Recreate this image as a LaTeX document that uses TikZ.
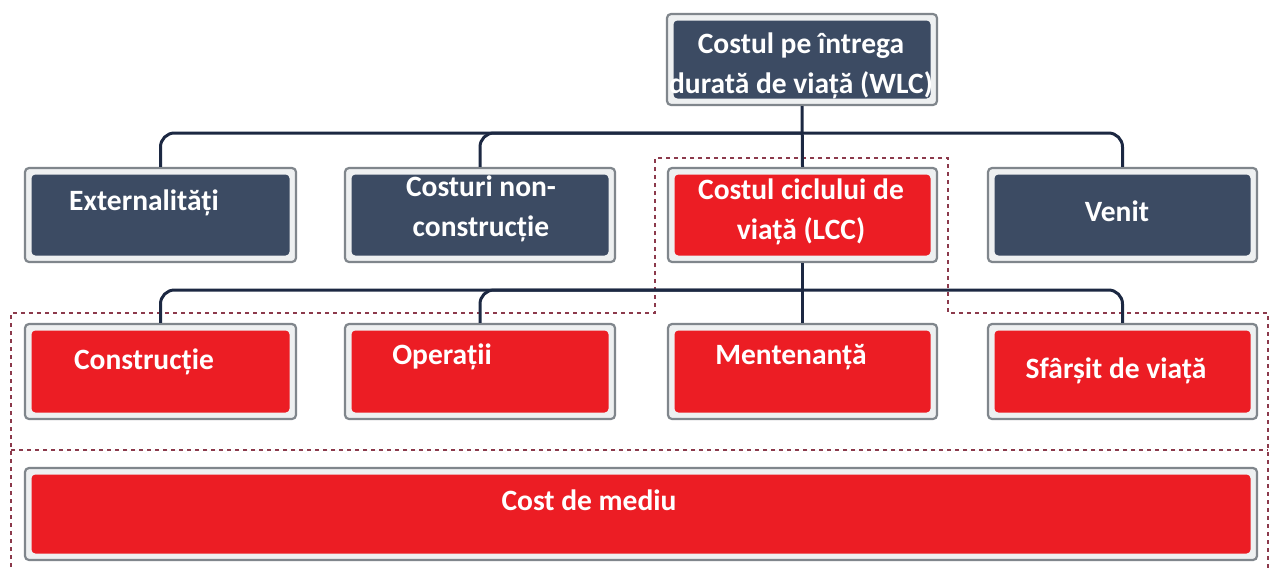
\documentclass[tikz,border=0pt]{standalone}
\usepackage{fontspec}
\setmainfont{Carlito}
\definecolor{navy}{RGB}{60,75,99}
\definecolor{redbox}{RGB}{236,29,36}
\definecolor{rim}{RGB}{128,134,140}
\definecolor{rimfill}{RGB}{238,240,241}
\definecolor{conncol}{RGB}{28,40,66}
\definecolor{dashcol}{RGB}{140,58,76}
\tikzset{
  boxbase/.style={draw=rim, line width=2.2pt, rounded corners=4pt, fill=rimfill, inner sep=0pt},
  navybox/.style={boxbase, path picture={\fill[navy] ([shift={(6.5pt,-6.5pt)}]path picture bounding box.north west) rectangle ([shift={(-6.5pt,6.5pt)}]path picture bounding box.south east);}},
  redbx/.style={boxbase, path picture={\fill[redbox] ([shift={(6.5pt,-6.5pt)}]path picture bounding box.north west) rectangle ([shift={(-6.5pt,6.5pt)}]path picture bounding box.south east);}},
  lbl/.style={text=white, font=\bfseries\fontsize{29.5}{40}\selectfont, align=center, inner sep=0pt},
  conn/.style={draw=conncol, line width=3pt, rounded corners=14pt},
  dashline/.style={draw=dashcol, line width=2.8pt, dash pattern=on 4pt off 4pt}
}
\begin{document}
\begin{tikzpicture}[x=1pt,y=-1pt]
\useasboundingbox[fill=white] (0,0) rectangle (1271,568);
% dashed group outlines
\draw[dashline] (11,575) -- (11,313) -- (655,313) -- (655,158) -- (948,158) -- (948,313) -- (1268,313) -- (1268,575);
\draw[dashline] (11,450) -- (1268,450);
% boxes
\node[navybox, minimum width=270pt, minimum height=91pt] (wlc) at (802,59.5) {};
\node[navybox, minimum width=271pt, minimum height=94pt] (ext) at (160.5,215) {};
\node[navybox, minimum width=270pt, minimum height=94pt] (ncc) at (480,215) {};
\node[redbx, minimum width=269pt, minimum height=94pt] (lcc) at (802.5,215) {};
\node[navybox, minimum width=269pt, minimum height=94pt] (ven) at (1122.5,215) {};
\node[redbx, minimum width=271pt, minimum height=95pt] (con) at (160.5,371.5) {};
\node[redbx, minimum width=270pt, minimum height=95pt] (ope) at (480,371.5) {};
\node[redbx, minimum width=269pt, minimum height=95pt] (men) at (802.5,371.5) {};
\node[redbx, minimum width=269pt, minimum height=95pt] (sfa) at (1122.5,371.5) {};
\node[redbx, minimum width=1232pt, minimum height=92pt] (env) at (641,514) {};
% connectors
\coordinate (b1) at (802,133);
\coordinate (b2) at (802,290);
\draw[conn] (ext.north) |- (b1) -| (ven.north);
\draw[conn] (ncc.north) |- (b1);
\draw[conn] (wlc.south) -- (lcc.north);
\draw[conn] (con.north) |- (b2) -| (sfa.north);
\draw[conn] (ope.north) |- (b2);
\draw[conn] (lcc.south) -- (men.north);
% labels
\node[lbl] (wlcT) at (801,66) {Costul pe întrega\\durată de viață (WLC)};
\node[lbl] (extT) at (144,203) {Externalități};
\node[lbl] (nccT) at (481,209) {Costuri non-\\construcție};
\node[lbl] (lccT) at (801,212) {Costul ciclului de\\viață (LCC)};
\node[lbl] (venT) at (1117,211) {Venit};
\node[lbl] (conT) at (144,362) {Construcție};
\node[lbl] (opeT) at (442,357) {Operații};
\node[lbl] (menT) at (791,357) {Mentenanță};
\node[lbl] (sfaT) at (1116,371) {Sfârșit de viață};
\node[lbl] (envT) at (589,500) {Cost de mediu};
\end{tikzpicture}
\end{document}
